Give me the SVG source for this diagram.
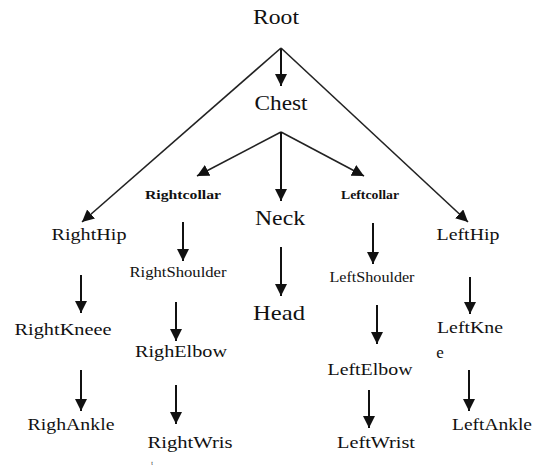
<svg xmlns="http://www.w3.org/2000/svg" width="539" height="474" viewBox="0 0 539 474" font-family="'Liberation Serif', 'DejaVu Serif', serif">
<defs>
<marker id="ah" markerUnits="userSpaceOnUse" markerWidth="12" markerHeight="14" viewBox="0 0 12 14" refX="12" refY="6" orient="auto">
<path d="M0,0 L12,6 L0,12 z" fill="#111"/>
</marker>
</defs>
<style>
text{font-family:'Liberation Serif','DejaVu Serif',serif;fill:#111;text-anchor:middle}
.big{font-size:22px}
.mid{font-size:17px}
.sm{font-size:15px}
.bsm{font-size:13px;font-weight:bold}
.e{stroke:#222;stroke-width:1.6;fill:none;marker-end:url(#ah)}
.v{stroke:#111;stroke-width:2;fill:none;marker-end:url(#ah)}
</style>
<rect width="539" height="474" fill="#fff"/>
<g id="connectors">
<path class="v" d="M281,48 V86"/>
<path class="e" d="M281,48 L82,222"/>
<path class="e" d="M281,48 L468,222"/>
<path class="e" d="M281,132 L197,176"/>
<path class="e" d="M281,132 L364,176"/>
<path class="v" d="M281,132 V201"/>
<path class="v" d="M281,247 V296"/>
<path class="v" d="M183,222 V261"/>
<path class="v" d="M176,302 V341"/>
<path class="v" d="M176,385 V424"/>
<path class="v" d="M81,275 V313"/>
<path class="v" d="M81,370 V411"/>
<path class="v" d="M373,223 V264"/>
<path class="v" d="M377,305 V344"/>
<path class="v" d="M369,390 V428"/>
<path class="v" d="M470,277 V314"/>
<path class="v" d="M469,370 V411"/>
</g>
<g id="root"><text class="big" x="276" y="24" textLength="46" lengthAdjust="spacingAndGlyphs">Root</text></g>
<g id="chest"><text class="big" x="281" y="110" textLength="53" lengthAdjust="spacingAndGlyphs">Chest</text></g>
<g id="rightcollar"><text class="bsm" x="183" y="199" textLength="76" lengthAdjust="spacingAndGlyphs">Rightcollar</text></g>
<g id="neck"><text class="big" x="280" y="225" textLength="50" lengthAdjust="spacingAndGlyphs">Neck</text></g>
<g id="leftcollar"><text class="bsm" x="370" y="199" textLength="58" lengthAdjust="spacingAndGlyphs">Leftcollar</text></g>
<g id="righthip"><text class="mid" x="89" y="240" textLength="75" lengthAdjust="spacingAndGlyphs">RightHip</text></g>
<g id="lefthip"><text class="mid" x="468" y="240" textLength="63" lengthAdjust="spacingAndGlyphs">LeftHip</text></g>
<g id="head"><text class="big" x="279" y="320" textLength="52" lengthAdjust="spacingAndGlyphs">Head</text></g>
<g id="rightshoulder"><text class="sm" x="178" y="277" textLength="97" lengthAdjust="spacingAndGlyphs">RightShoulder</text></g>
<g id="leftshoulder"><text class="sm" x="372" y="282" textLength="85" lengthAdjust="spacingAndGlyphs">LeftShoulder</text></g>
<g id="rightkneee"><text class="mid" x="63" y="335" textLength="97" lengthAdjust="spacingAndGlyphs">RightKneee</text></g>
<g id="lefkne"><text class="mid" x="470" y="333" textLength="66" lengthAdjust="spacingAndGlyphs">LeftKne</text><text class="mid" x="440" y="358">e</text></g>
<g id="righelbow"><text class="mid" x="181" y="357" textLength="92" lengthAdjust="spacingAndGlyphs">RighElbow</text></g>
<g id="leftelbow"><text class="mid" x="370" y="375" textLength="85" lengthAdjust="spacingAndGlyphs">LeftElbow</text></g>
<g id="righankle"><text class="mid" x="71" y="430" textLength="87" lengthAdjust="spacingAndGlyphs">RighAnkle</text></g>
<g id="rightwris"><text class="mid" x="190" y="448" textLength="85" lengthAdjust="spacingAndGlyphs">RightWris</text><text x="152" y="465" style="font-size:6px">t</text></g>
<g id="leftwrist"><text class="mid" x="376" y="448" textLength="78" lengthAdjust="spacingAndGlyphs">LeftWrist</text></g>
<g id="leftankle"><text class="mid" x="492" y="430" textLength="80" lengthAdjust="spacingAndGlyphs">LeftAnkle</text></g>
</svg>
